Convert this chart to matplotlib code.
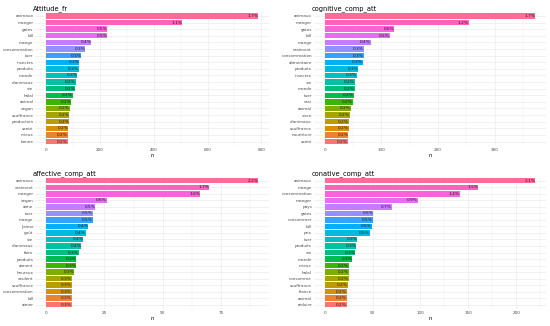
import numpy as np
import matplotlib
matplotlib.use("Agg")
from matplotlib import pyplot as plt
from matplotlib.ticker import MultipleLocator

# word counts per corpus, top to bottom
attitude_words = ["animaux", "manger", "gates", "bill", "mange", "consommation", "tuer",
                  "insectes", "produits", "monde", "d'animaux", "vie", "halal", "animal",
                  "vegan", "souffrance", "production", "santé", "mieux", "bonne"]
attitude_n = [789, 507, 228, 228, 168, 146, 131, 124, 121, 116, 110, 109, 99, 94,
              89, 87, 87, 82, 80, 80]
attitude_pct = ["1.7%", "1.1%", "0.5%", "0.5%", "0.4%", "0.3%", "0.3%", "0.3%", "0.3%",
                "0.3%", "0.2%", "0.2%", "0.2%", "0.2%", "0.2%", "0.2%", "0.2%", "0.2%",
                "0.2%", "0.2%"]

cognitive_words = ["animaux", "manger", "gates", "bill", "mange", "vraiment", "consommation",
                   "alimentaire", "produits", "insectes", "vie", "monde", "tuer", "vrai",
                   "animal", "vivre", "d'animaux", "souffrance", "nourriture", "santé"]
cognitive_n = [372, 254, 123, 115, 81, 69, 69, 67, 59, 57, 53, 53, 51, 50, 46, 44, 43, 43,
               42, 41]
cognitive_pct = ["1.7%", "1.2%", "0.6%", "0.5%", "0.4%", "0.3%", "0.3%", "0.3%", "0.3%",
                 "0.3%", "0.2%", "0.2%", "0.2%", "0.2%", "0.2%", "0.2%", "0.2%", "0.2%",
                 "0.2%", "0.2%"]

affective_words = ["animaux", "vraiment", "manger", "vegan", "aime", "tuer", "mange", "j'aime",
                   "goût", "vie", "d'animaux", "faim", "produits", "aiment", "heureux",
                   "veulent", "souffrance", "consommation", "bill", "aimer"]
affective_n = [91, 70, 66, 26, 21, 20, 20, 18, 17, 16, 15, 14, 13, 13, 12, 11, 11, 11, 11, 11]
affective_pct = ["2.2%", "1.7%", "1.6%", "0.6%", "0.5%", "0.5%", "0.5%", "0.4%", "0.4%",
                 "0.4%", "0.4%", "0.3%", "0.3%", "0.3%", "0.3%", "0.3%", "0.3%", "0.3%",
                 "0.3%", "0.3%"]

conative_words = ["animaux", "mange", "consommation", "manger", "pays", "gates", "consommer",
                  "bill", "prix", "tuer", "produits", "vie", "monde", "mieux", "halal",
                  "consomme", "souffrance", "france", "animal", "réduire"]
conative_n = [220, 160, 141, 97, 70, 51, 50, 49, 47, 34, 33, 32, 29, 25, 25, 25, 24, 23, 23, 23]
conative_pct = ["2.1%", "1.5%", "1.4%", "0.9%", "0.7%", "0.5%", "0.5%", "0.5%", "0.5%",
                "0.3%", "0.3%", "0.3%", "0.3%", "0.2%", "0.2%", "0.2%", "0.2%", "0.2%",
                "0.2%", "0.2%"]


def hue_pal(n, l=65, c=100):
    """ggplot2 default discrete palette (polar Luv -> sRGB)"""
    hues = np.linspace(15, 375, n + 1)[:n]
    Xn, Yn, Zn = 95.047, 100.0, 108.883
    un = 4 * Xn / (Xn + 15 * Yn + 3 * Zn)
    vn = 9 * Yn / (Xn + 15 * Yn + 3 * Zn)
    M = np.array([[3.2404542, -1.5371385, -0.4985314],
                  [-0.9692660, 1.8760108, 0.0415560],
                  [0.0556434, -0.2040259, 1.0572252]])
    cols = []
    for h in hues:
        u = c * np.cos(np.radians(h))
        v = c * np.sin(np.radians(h))
        Y = Yn * ((l + 16) / 116) ** 3
        up = u / (13 * l) + un
        vp = v / (13 * l) + vn
        X = 9 * Y * up / (4 * vp)
        Z = Y * (12 - 3 * up - 20 * vp) / (4 * vp)
        rgb = M @ (np.array([X, Y, Z]) / 100)
        rgb = np.where(rgb <= 0.0031308, 12.92 * rgb, 1.055 * np.abs(rgb) ** (1 / 2.4) - 0.055)
        cols.append(tuple(np.clip(rgb, 0, 1)))
    return cols


panels = [
    ("Attitude_fr", attitude_words, attitude_n, attitude_pct, 200),
    ("cognitive_comp_att", cognitive_words, cognitive_n, cognitive_pct, 100),
    ("affective_comp_att", affective_words, affective_n, affective_pct, 25),
    ("conative_comp_att", conative_words, conative_n, conative_pct, 50),
]

# axes boxes in figure fraction (left, bottom, width, height)
boxes = [
    (0.0644, 0.5537, 0.4247, 0.4095),
    (0.5710, 0.5537, 0.4218, 0.4095),
    (0.0644, 0.0534, 0.4247, 0.4040),
    (0.5710, 0.0534, 0.4218, 0.4040),
]

fig = plt.figure(figsize=(5.5, 3.26), dpi=100)
grid_col = "#EBEBEB"

for (title, words, n, pct, step), box in zip(panels, boxes):
    ax = fig.add_axes(box)
    k = len(words)
    ypos = np.arange(k)[::-1]
    colors = hue_pal(k)[::-1]  # lowest bar = first level
    ax.barh(ypos, n, height=0.82, color=colors, zorder=2)
    for y, val, lab in zip(ypos, n, pct):
        ax.text(val, y, lab, ha="right", va="center", fontsize=3.1, color="#1A1A1A", zorder=3)

    mx = max(n)
    ax.set_xlim(-0.05 * mx, 1.05 * mx)
    ax.set_ylim(-0.6, k - 0.4)
    ax.set_yticks(ypos)
    ax.set_yticklabels(words)
    ax.xaxis.set_major_locator(MultipleLocator(step))
    ax.xaxis.set_minor_locator(MultipleLocator(step / 2))

    ax.grid(True, which="major", axis="both", color=grid_col, linewidth=0.5, zorder=0)
    ax.grid(True, which="minor", axis="x", color=grid_col, linewidth=0.3, zorder=0)
    ax.set_axisbelow(True)
    for s in ax.spines.values():
        s.set_visible(False)
    ax.tick_params(axis="both", which="both", length=0, labelsize=3.0,
                   labelcolor="#4D4D4D", pad=1.5)

    ax.set_xlabel("n", fontsize=3.8, labelpad=1.0)
    ax.set_title(title, loc="left", fontsize=4.8, pad=1.5, x=-0.01)

plt.savefig("out.png", dpi=100)
